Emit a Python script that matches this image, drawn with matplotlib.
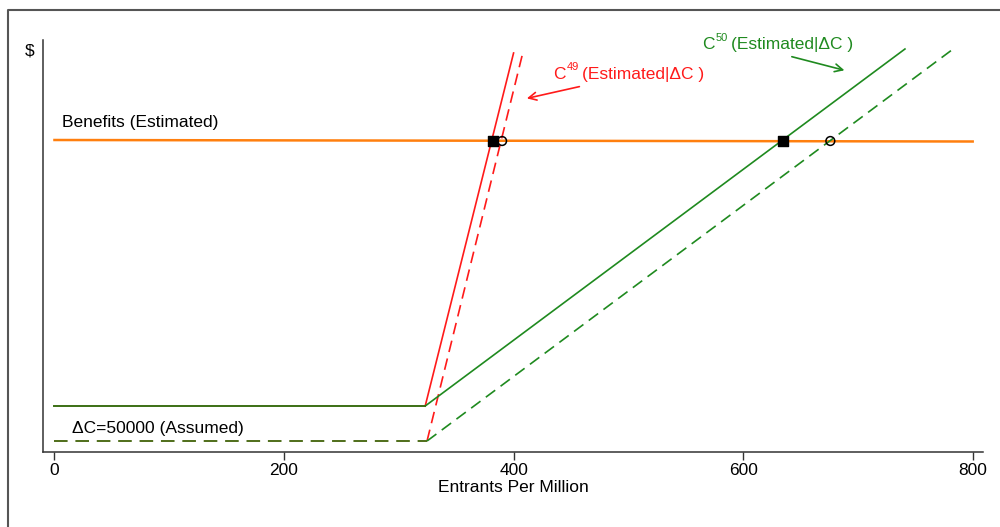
import matplotlib
matplotlib.use("Agg")
import matplotlib.pyplot as plt
from matplotlib.lines import Line2D

plt.rcParams['font.family'] = ['Liberation Sans', 'DejaVu Sans']
plt.rcParams['mathtext.fontset'] = 'custom'
plt.rcParams['mathtext.rm'] = 'Liberation Sans'
plt.rcParams['mathtext.it'] = 'Liberation Sans'

# ---- data (arbitrary $ units) ----
benefit_x = [0, 800]
benefit_y = [312, 310.5]

c49_x = [0, 323, 400]
c49_y = [46, 46, 399]
c49d_x = [0, 324.6, 408]
c49d_y = [11, 11, 399]

c50_x = [0, 323, 741]
c50_y = [46, 46, 403]
c50d_x = [0, 324.6, 783]
c50d_y = [11, 11, 403]

square_x = [382, 634.5]
square_y = [311, 311]
circle_x = [390, 676]
circle_y = [311, 311]

xticks = [0, 200, 400, 600, 800]

RED = '#ff1a1a'
GREEN = '#1f8a1f'
ORANGE = '#ff7f0e'
DASH = (0, (7, 4))

fig = plt.figure(figsize=(10, 5.27), dpi=100)
ax = fig.add_axes([0.043, 0.1423, 0.94, 0.7818])

ax.plot(benefit_x, benefit_y, color=ORANGE, lw=1.8, zorder=2)
# flat (shared) segments where red and green overlap
ax.plot(c50_x[:2], c50_y[:2], color='#3b6f14', lw=1.4, zorder=5)
ax.plot(c50d_x[:2], c50d_y[:2], color='#4f6e1a', lw=1.4, ls=DASH, zorder=5)
# rising segments
ax.plot(c49_x[1:], c49_y[1:], color=RED, lw=1.2, zorder=3)
ax.plot(c49d_x[1:], c49d_y[1:], color=RED, lw=1.2, ls=DASH, zorder=3)
ax.plot(c50_x[1:], c50_y[1:], color=GREEN, lw=1.2, zorder=4)
ax.plot(c50d_x[1:], c50d_y[1:], color=GREEN, lw=1.2, ls=DASH, zorder=4)

ax.scatter(square_x, square_y, marker='s', s=60, color='black', zorder=6)
ax.scatter(circle_x, circle_y, marker='o', s=40, facecolors='none',
           edgecolors='black', linewidths=1.1, zorder=6)

ax.set_xlim(-10, 809)
ax.set_ylim(0, 412)
ax.set_xticks(xticks)
ax.set_xticklabels([str(t) for t in xticks], fontsize=12.5)
ax.set_yticks([])
ax.tick_params(axis='x', length=6, width=1, pad=2, color='#333333')
for s in ['top', 'right']:
    ax.spines[s].set_visible(False)
for s in ['left', 'bottom']:
    ax.spines[s].set_color('#333333')
    ax.spines[s].set_linewidth(1.1)
ax.set_xlabel('Entrants Per Million', fontsize=12.5, labelpad=1)

fig.text(0.030, 1 - 51 / 527, '$', fontsize=12.5, ha='center', va='center')

ax.text(6.5, 330, 'Benefits (Estimated)', fontsize=12.5, va='center', ha='left')
ax.text(15.3, 24, '\u0394C=50000 (Assumed)', fontsize=12.5, va='center', ha='left')


def sup_label(x, y, sup, color):
    t = ax.text(x, y, 'C', fontsize=12.5, va='center', ha='left', color=color)
    ax.annotate(sup, xy=(x, y), xytext=(9.5, 5), textcoords='offset points',
                fontsize=8, va='center', ha='left', color=color)
    ax.annotate('(Estimated|\u0394C )', xy=(x, y), xytext=(21, 0),
                textcoords='offset points', fontsize=12.5, va='center',
                ha='left', color=color)


sup_label(434.4, 378, '49', RED)
sup_label(564.3, 407, '50', GREEN)

ax.annotate('', xy=(409.2, 353), xytext=(459.7, 366),
            arrowprops=dict(arrowstyle='->', color=RED, lw=1.2, mutation_scale=14))
ax.annotate('', xy=(690.6, 381), xytext=(640.1, 396),
            arrowprops=dict(arrowstyle='->', color=GREEN, lw=1.2, mutation_scale=14))

# outer frame (top and left edges visible)
yt = 1 - 10 / 527
fig.add_artist(Line2D([0.008, 0.008, 1.0], [0.0, yt, yt], color='#555555', lw=1.5,
                      transform=fig.transFigure))

fig.savefig('out.png', dpi=100)
